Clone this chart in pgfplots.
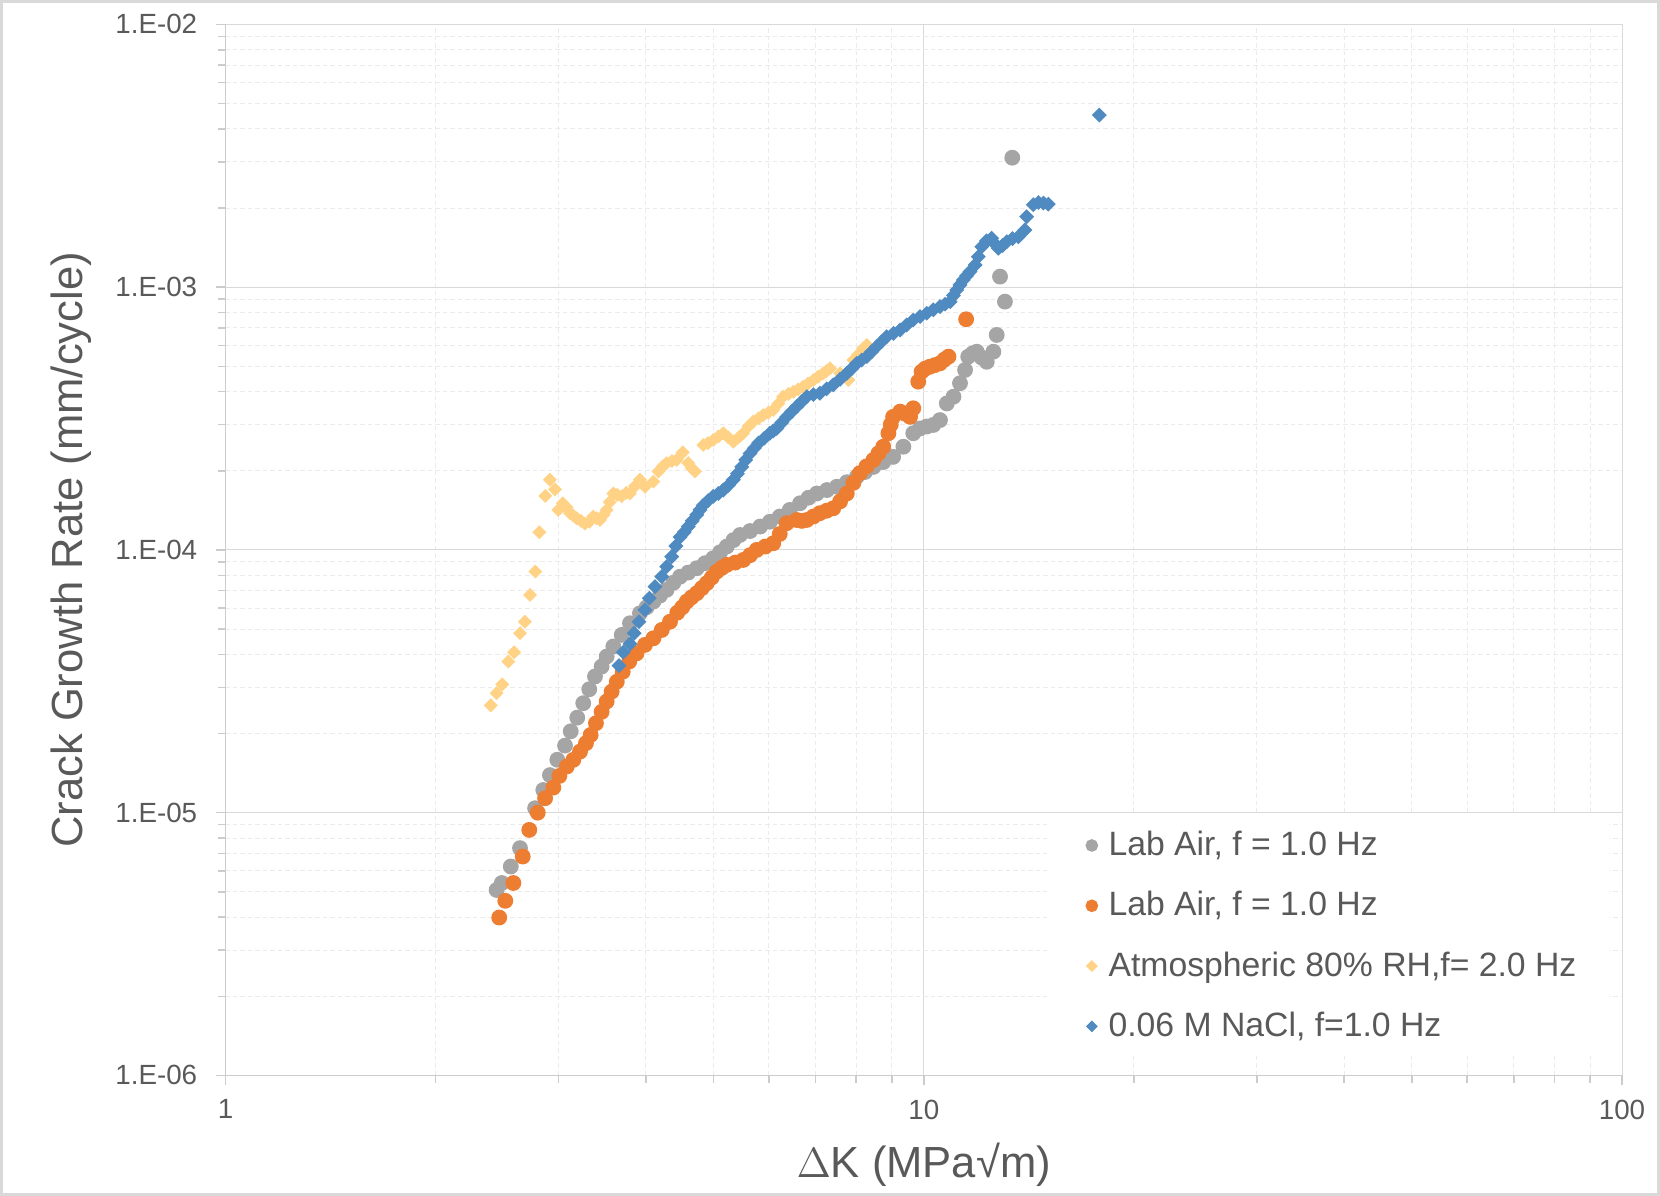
\documentclass[border=0pt]{standalone}
\usepackage{fontspec}
\setmainfont{Liberation Sans}
\usepackage{pgfplots}
\pgfplotsset{compat=1.18}
\definecolor{txt}{HTML}{595959}
\definecolor{sgray}{HTML}{A5A5A5}
\definecolor{sorange}{HTML}{ED7D31}
\definecolor{syellow}{HTML}{FFD285}
\definecolor{sblue}{HTML}{4F8BC1}
\definecolor{gridmaj}{HTML}{D9D9D9}
\definecolor{gridmin}{HTML}{EBEBEB}
\definecolor{axline}{HTML}{CCCCCC}
\definecolor{framec}{HTML}{D9D9D9}
\begin{document}
\begin{tikzpicture}
\begin{axis}[name=ax, scale only axis, width=139.65mm, height=105.1mm,
  xmode=log, ymode=log, xmin=1, xmax=100, ymin=1e-6, ymax=1e-2,
  axis x line=bottom, axis y line=left,
  axis line style={axline, line width=0.15mm, -},
  every tick/.style={axline, line width=0.15mm},
  tick align=outside, major tick length=1mm, minor tick length=0.75mm,
  xtick={1,10,100}, xticklabels={1,10,100},
  minor xtick={2,3,4,5,6,7,8,9,20,30,40,50,60,70,80,90},
  ytick={1e-6,1e-5,1e-4,1e-3,1e-2},
  yticklabels={1.E-06,1.E-05,1.E-04,1.E-03,1.E-02},
  minor ytick={2e-6,3e-6,4e-6,5e-6,6e-6,7e-6,8e-6,9e-6,2e-5,3e-5,4e-5,5e-5,6e-5,7e-5,8e-5,9e-5,2e-4,3e-4,4e-4,5e-4,6e-4,7e-4,8e-4,9e-4,2e-3,3e-3,4e-3,5e-3,6e-3,7e-3,8e-3,9e-3},
  grid=both,
  major grid style={gridmaj, line width=0.1mm, solid},
  minor grid style={gridmin, line width=0.1mm, dash pattern=on 0.45mm off 0.3mm},
  tick label style={font=\fontsize{7.9}{10}\selectfont, text=txt},
  yticklabel style={xshift=-0.6mm},
  xticklabel style={yshift=-0.2mm},
  xlabel={$\Delta$K (MPa√m)},
  ylabel={Crack Growth Rate (mm/cycle)},
  label style={font=\fontsize{12.4}{14}\selectfont, text=txt},
  xlabel style={at={([yshift=-10.2mm]axis description cs:0.5,0)}, anchor=base},
  ylabel style={at={([xshift=-14.3mm]axis description cs:0,0.5)}, anchor=base},
  legend cell align=left,
  legend image code/.code={\path (0mm,0mm) (2.4mm,0mm); \draw[#1] plot coordinates {(1.2mm,0mm)};},
  legend style={at={(axis description cs:0.5875,0.248)}, anchor=north west,
    draw=none, fill=white, inner xsep=3.25mm, inner ysep=1.5mm,
    font=\fontsize{9.6}{11.5}\selectfont, text=txt,
    row sep=3.03mm, column sep=0.4mm,
    nodes={inner sep=0pt, text height=2.5mm, text depth=0.5mm}},
]
\addplot[sgray, only marks, mark=*, mark size=2.05pt, mark options={draw=sgray, fill=sgray}, legend image post style={mark size=1.6pt}] table {
x y
2.445 5.08e-6
2.487 5.40e-6
2.562 6.24e-6
2.641 7.33e-6
2.776 1.04e-5
2.852 1.22e-5
2.915 1.39e-5
2.987 1.59e-5
3.064 1.80e-5
3.122 2.04e-5
3.190 2.30e-5
3.254 2.61e-5
3.319 2.95e-5
3.382 3.30e-5
3.457 3.60e-5
3.515 3.93e-5
3.593 4.29e-5
3.694 4.75e-5
3.796 5.26e-5
3.923 5.74e-5
4.01 6.05e-5
4.10 6.36e-5
4.19 6.70e-5
4.283 7.05e-5
4.38 7.50e-5
4.477 7.91e-5
4.60 8.20e-5
4.730 8.52e-5
4.86 8.90e-5
4.995 9.30e-5
5.11 9.80e-5
5.222 1.03e-4
5.34 1.09e-4
5.456 1.14e-4
5.64 1.18e-4
5.83 1.227e-4
6.02 1.28e-4
6.22 1.34e-4
6.43 1.42e-4
6.65 1.505e-4
6.84 1.58e-4
7.03 1.64e-4
7.27 1.69e-4
7.51 1.74e-4
7.76 1.81e-4
8.02 1.90e-4
8.24 1.98e-4
8.47 2.07e-4
8.75 2.16e-4
9.04 2.26e-4
9.35 2.47e-4
9.66 2.78e-4
9.88 2.90e-4
10.10 2.95e-4
10.32 2.99e-4
10.55 3.12e-4
10.79 3.61e-4
11.03 3.83e-4
11.27 4.31e-4
11.46 4.84e-4
11.58 5.44e-4
11.75 5.60e-4
11.91 5.68e-4
12.10 5.40e-4
12.31 5.20e-4
12.58 5.68e-4
12.72 6.58e-4
13.07 8.81e-4
12.86 1.097e-3
13.39 3.11e-3
};
\addlegendentry{Lab Air, f = 1.0 Hz}
\addplot[sorange, only marks, mark=*, mark size=2.05pt, mark options={draw=sorange, fill=sorange}, legend image post style={mark size=1.6pt}] table {
x y
2.466 3.99e-6
2.516 4.62e-6
2.584 5.40e-6
2.665 6.81e-6
2.723 8.60e-6
2.800 1.0e-5
2.869 1.135e-5
2.948 1.246e-5
3.007 1.38e-5
3.082 1.498e-5
3.149 1.589e-5
3.219 1.708e-5
3.283 1.838e-5
3.334 1.977e-5
3.393 2.19e-5
3.457 2.42e-5
3.515 2.65e-5
3.573 2.89e-5
3.634 3.15e-5
3.706 3.44e-5
3.787 3.76e-5
3.880 4.04e-5
3.988 4.35e-5
4.10 4.61e-5
4.215 4.96e-5
4.331 5.33e-5
4.437 5.77e-5
4.51 6.05e-5
4.577 6.36e-5
4.65 6.60e-5
4.730 6.84e-5
4.81 7.15e-5
4.889 7.47e-5
4.97 7.85e-5
5.052 8.27e-5
5.14 8.55e-5
5.222 8.77e-5
5.37 8.95e-5
5.515 9.16e-5
5.64 9.55e-5
5.765 1.0e-4
5.93 1.03e-4
6.087 1.06e-4
6.22 1.15e-4
6.364 1.264e-4
6.577 1.30e-4
6.69 1.29e-4
6.798 1.30e-4
6.95 1.34e-4
7.10 1.38e-4
7.26 1.41e-4
7.42 1.44e-4
7.59 1.53e-4
7.76 1.64e-4
7.93 1.80e-4
8.10 1.96e-4
8.28 2.08e-4
8.47 2.20e-4
8.61 2.33e-4
8.75 2.47e-4
8.90 2.78e-4
8.97 3.00e-4
9.04 3.21e-4
9.25 3.36e-4
9.40 3.30e-4
9.56 3.21e-4
9.66 3.46e-4
9.82 4.37e-4
9.93 4.77e-4
10.05 4.90e-4
10.2 4.98e-4
10.37 5.05e-4
10.55 5.13e-4
10.7 5.30e-4
10.85 5.44e-4
11.5 7.55e-4
};
\addlegendentry{Lab Air, f = 1.0 Hz}
\addplot[syellow, only marks, mark=square*, mark size=1.2pt, mark options={draw=syellow, fill=syellow, rotate=45}, legend image post style={mark size=1.0pt}] table {
x y
2.398 2.56e-5
2.445 2.85e-5
2.491 3.08e-5
2.541 3.76e-5
2.590 4.08e-5
2.641 4.82e-5
2.684 5.33e-5
2.730 6.74e-5
2.778 8.27e-5
2.815 1.168e-4
2.871 1.605e-4
2.915 1.85e-4
2.964 1.70e-4
2.997 1.42e-4
3.041 1.505e-4
3.08 1.45e-4
3.114 1.38e-4
3.15 1.35e-4
3.184 1.32e-4
3.23 1.29e-4
3.272 1.26e-4
3.32 1.28e-4
3.363 1.34e-4
3.40 1.32e-4
3.438 1.30e-4
3.48 1.36e-4
3.515 1.42e-4
3.55 1.52e-4
3.593 1.64e-4
3.64 1.62e-4
3.694 1.60e-4
3.75 1.65e-4
3.796 1.64e-4
3.86 1.75e-4
3.923 1.85e-4
3.988 1.74e-4
4.10 1.82e-4
4.17 1.99e-4
4.23 2.08e-4
4.283 2.14e-4
4.36 2.18e-4
4.428 2.20e-4
4.517 2.35e-4
4.601 2.14e-4
4.65 2.05e-4
4.704 1.99e-4
4.834 2.51e-4
4.91 2.55e-4
4.995 2.62e-4
5.08 2.70e-4
5.164 2.78e-4
5.25 2.68e-4
5.337 2.58e-4
5.43 2.68e-4
5.515 2.78e-4
5.61 2.95e-4
5.70 3.08e-4
5.80 3.17e-4
5.89 3.26e-4
5.99 3.33e-4
6.087 3.41e-4
6.19 3.60e-4
6.29 3.83e-4
6.40 3.92e-4
6.505 4.00e-4
6.61 4.08e-4
6.72 4.18e-4
6.83 4.30e-4
6.95 4.43e-4
7.06 4.56e-4
7.18 4.70e-4
7.26 4.80e-4
7.34 4.91e-4
7.59 4.70e-4
7.80 4.43e-4
7.93 5.28e-4
8.06 5.55e-4
8.19 5.85e-4
8.29 6.03e-4
};
\addlegendentry{Atmospheric 80\% RH,f= 2.0 Hz}
\addplot[sblue, only marks, mark=square*, mark size=1.3pt, mark options={draw=sblue, fill=sblue, rotate=45}, legend image post style={mark size=1.0pt}] table {
x y
3.661 3.63e-5
3.713 4.08e-5
3.796 4.39e-5
3.850 4.82e-5
3.911 5.33e-5
3.988 5.91e-5
4.045 6.55e-5
4.122 7.25e-5
4.215 7.91e-5
4.283 8.64e-5
4.355 9.43e-5
4.417 1.035e-4
4.477 1.12e-4
4.54 1.17e-4
4.601 1.227e-4
4.66 1.29e-4
4.730 1.36e-4
4.78 1.42e-4
4.834 1.48e-4
4.91 1.54e-4
4.995 1.60e-4
5.08 1.64e-4
5.164 1.69e-4
5.25 1.76e-4
5.337 1.85e-4
5.41 1.95e-4
5.487 2.07e-4
5.56 2.20e-4
5.64 2.33e-4
5.72 2.44e-4
5.80 2.55e-4
5.91 2.66e-4
6.02 2.78e-4
6.09 2.84e-4
6.16 2.90e-4
6.26 3.05e-4
6.364 3.21e-4
6.47 3.36e-4
6.577 3.51e-4
6.69 3.67e-4
6.80 3.83e-4
6.95 3.90e-4
7.10 3.95e-4
7.26 4.10e-4
7.42 4.25e-4
7.59 4.46e-4
7.76 4.70e-4
7.89 4.90e-4
8.02 5.13e-4
8.15 5.28e-4
8.29 5.44e-4
8.42 5.68e-4
8.56 5.94e-4
8.70 6.20e-4
8.85 6.48e-4
9.05 6.67e-4
9.25 6.87e-4
9.45 7.18e-4
9.66 7.50e-4
9.88 7.73e-4
10.1 7.96e-4
10.32 8.20e-4
10.55 8.43e-4
10.73 8.62e-4
10.91 8.81e-4
11.03 9.30e-4
11.15 9.76e-4
11.27 1.02e-3
11.39 1.065e-3
11.52 1.105e-3
11.65 1.146e-3
11.85 1.215e-3
11.97 1.306e-3
12.11 1.426e-3
12.30 1.50e-3
12.51 1.535e-3
12.65 1.46e-3
12.79 1.406e-3
12.97 1.44e-3
13.15 1.489e-3
13.40 1.53e-3
13.66 1.556e-3
13.96 1.65e-3
14.04 1.855e-3
14.35 2.06e-3
14.60 2.10e-3
14.84 2.09e-3
15.08 2.07e-3
17.84 4.52e-3
};
\addlegendentry{0.06 M NaCl, f=1.0 Hz}
\end{axis}
\pgfresetboundingbox
\path[use as bounding box] ([xshift=-22.55mm,yshift=-12.04mm]ax.south west) rectangle ([xshift=3.8mm,yshift=2.44mm]ax.north east);
\draw[framec, line width=0.25mm] ([xshift=-22.42mm,yshift=-11.91mm]ax.south west) rectangle ([xshift=3.67mm,yshift=2.31mm]ax.north east);
\end{tikzpicture}
\end{document}
